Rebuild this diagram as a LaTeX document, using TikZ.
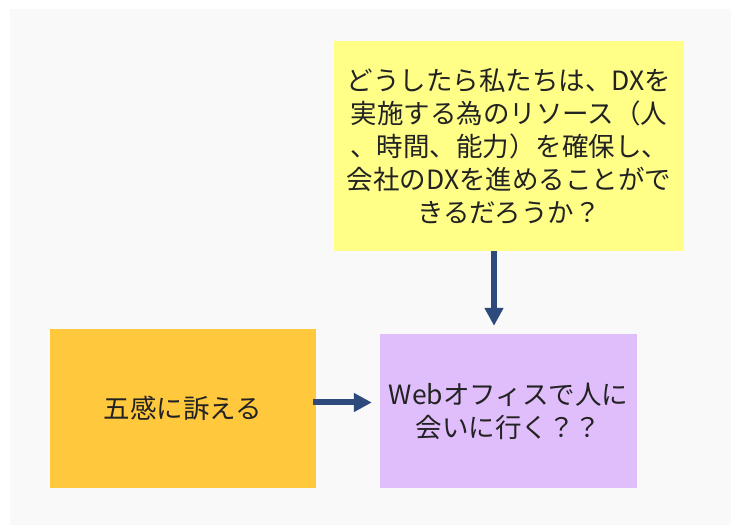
\documentclass[tikz,border=0pt]{standalone}
\usepackage{fontspec}
\setmainfont{Noto Sans CJK JP}
\usetikzlibrary{arrows.meta}
\definecolor{panelbg}{HTML}{F9F9F9}
\definecolor{ybox}{HTML}{FFFF88}
\definecolor{obox}{HTML}{FFC83D}
\definecolor{pbox}{HTML}{E0BDFB}
\definecolor{arrowc}{HTML}{2E4A7C}
\definecolor{txt}{HTML}{222222}
\tikzset{
  card/.style={rectangle, draw=none, inner sep=0pt, text=txt, align=center,
    font=\fontsize{26.5}{33}\selectfont},
  arr/.style={draw=arrowc, line width=6pt, -{Triangle[length=18pt,width=18pt]}}
}
\begin{document}
\begin{tikzpicture}[x=1pt,y=1pt]
\useasboundingbox (0,0) rectangle (731,525);
\fill[white] (0,0) rectangle (731,525);
\fill[panelbg] (10,0) rectangle (731,516);
\node[card, fill=ybox, minimum width=350pt, minimum height=210pt] (q) at (509,379)
  {どうしたら私たちは、DXを\\実施する為のリソース（人\\、時間、能力）を確保し、\\会社のDXを進めることがで\\きるだろうか？};
\node[card, fill=obox, minimum width=266pt, minimum height=159pt] (o) at (183,116.5)
  {五感に訴える};
\node[card, fill=pbox, minimum width=257pt, minimum height=154pt] (p) at (508.5,114)
  {Webオフィスで人に\\会いに行く？？};
\draw[arr, shorten <=-3pt, shorten >=8pt] ([yshift=6pt]o.east) -- ([yshift=8.5pt]p.west);
\draw[arr, shorten >=8pt] ([xshift=-15pt]q.south) -- ([xshift=-14.5pt]p.north);
\end{tikzpicture}
\end{document}
